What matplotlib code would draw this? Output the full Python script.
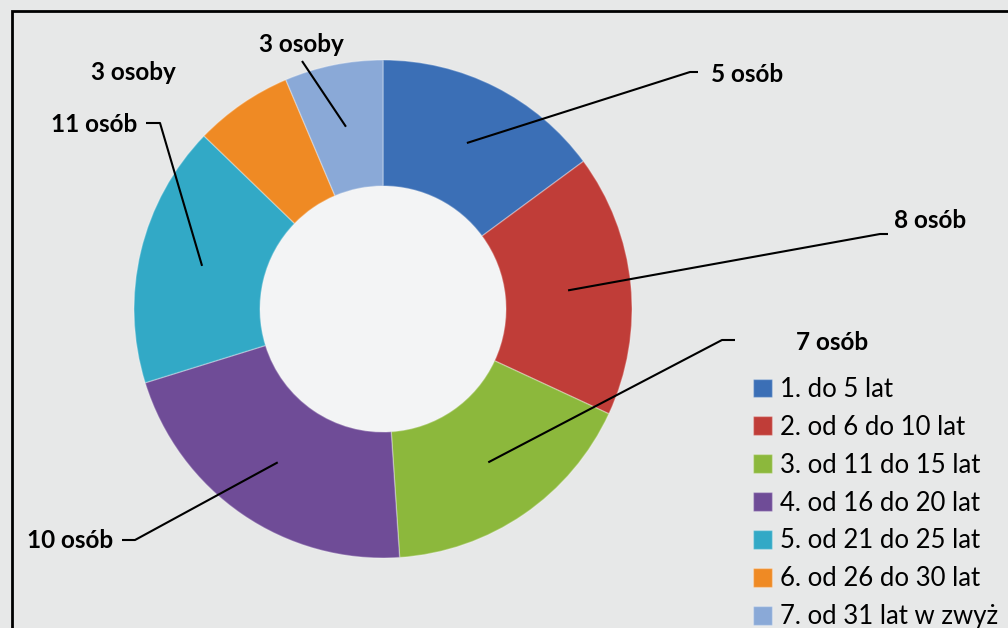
import matplotlib.pyplot as plt
import numpy as np
from matplotlib.patches import Rectangle, Circle

# slice sizes as drawn, and the label text shown next to each slice
sizes = [7, 8, 8, 10, 8, 3, 3]
data_labels = ["5 osób", "8 osób", "7 osób", "10 osób", "11 osób", "3 osoby", "3 osoby"]
categories = ["1. do 5 lat", "2. od 6 do 10 lat", "3. od 11 do 15 lat",
              "4. od 16 do 20 lat", "5. od 21 do 25 lat", "6. od 26 do 30 lat",
              "7. od 31 lat w zwyż"]
colors = ["#3b6fb6", "#c03d38", "#8cb83c", "#6f4c97", "#32a9c6", "#ef8a24", "#8aa9d7"]

W, H = 1008, 628
fig = plt.figure(figsize=(W / 100, H / 100), dpi=100)
fig.patch.set_facecolor("#e7e8e8")
ax = fig.add_axes([0, 0, 1, 1])

# frame (cut off at right/bottom as in the original)
ax.add_patch(Rectangle((12, -20), W + 40, H - 11 + 20, fill=False, lw=2, ec="black"))

cx, cy = 383, H - 309
R, r_in = 249, 123
ax.add_patch(Circle((cx, cy), r_in, fc="#f3f4f5", ec="none"))
wedges, _ = ax.pie(sizes, colors=colors, startangle=90, counterclock=False,
                   center=(cx, cy), radius=R, frame=True,
                   wedgeprops=dict(width=R - r_in, edgecolor=(1, 1, 1, 0.3), linewidth=1.0))
ax.set_xlim(0, W)
ax.set_ylim(0, H)
ax.axis("off")

# label placement (pixel layout): text anchor, line elbow, horizontal tail end
label_pos = [
    (711, 75, "left", (690, 72), (698, 72)),
    (894, 220, "left", (880, 234), (888, 234)),
    (796, 343, "left", (722, 340), (735, 340)),
    (113, 541, "right", (135, 540), (122, 540)),
    (137, 124, "right", (160, 123), (146, 123)),
    (176, 72, "right", None, None),
    (344, 44, "right", (302, 61), None),
]
rmid = (R + r_in) / 2
for w, txt, (tx, ty, ha, elbow, tail) in zip(wedges, data_labels, label_pos):
    ang = np.deg2rad((w.theta1 + w.theta2) / 2)
    px, py = cx + rmid * np.cos(ang), cy + rmid * np.sin(ang)
    if elbow is not None:
        xs = [px, elbow[0]]
        ys = [py, H - elbow[1]]
        if tail is not None:
            xs.append(tail[0])
            ys.append(H - tail[1])
        ax.plot(xs, ys, color="black", lw=1.5, solid_capstyle="butt")
    ax.text(tx, H - ty, txt, ha=ha, va="center", fontsize=17.5,
            fontweight="bold", family="Lato", color="black")

leg = ax.legend(wedges, categories, loc="upper left",
                bbox_to_anchor=(753 / W, 1 - 377 / H), frameon=False,
                prop=dict(family="Lato", size=18.5), handlelength=0.75,
                handleheight=0.75, handletextpad=0.3, labelspacing=0.5,
                borderaxespad=0, borderpad=0)

fig.savefig("out.png", dpi=100, facecolor=fig.get_facecolor())
